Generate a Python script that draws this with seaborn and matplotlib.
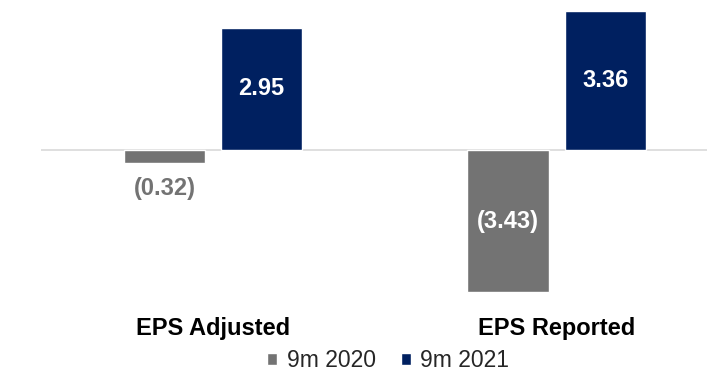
import matplotlib
matplotlib.use("Agg")
import matplotlib.pyplot as plt
import seaborn as sns
import pandas as pd
from matplotlib.patches import Patch

# EPS figures by metric and period
metrics = ["EPS Adjusted", "EPS Reported"]
periods = ["9m 2020", "9m 2021"]
eps_2020 = [-0.32, -3.43]
eps_2021 = [2.95, 3.36]
colors = {"9m 2020": "#737373", "9m 2021": "#002060"}

df = pd.DataFrame({
    "metric": metrics * 2,
    "period": [periods[0]] * len(metrics) + [periods[1]] * len(metrics),
    "eps": eps_2020 + eps_2021,
})

sns.set_theme(style="white")
plt.rcParams["font.family"] = ["Liberation Sans", "DejaVu Sans"]

fig = plt.figure(figsize=(7.07, 3.71), dpi=100)
ax = fig.add_axes([41 / 707, 71 / 371, 666 / 707, 300 / 371])

sns.barplot(
    data=df, x="metric", y="eps", hue="period",
    order=metrics, hue_order=periods, palette=colors,
    width=0.565, gap=0.165, saturation=1, legend=False, ax=ax,
)
ax.set_xlim(-0.5007, 1.438)
ax.set_ylim(-3.623, 3.623)
ax.axhline(0, color="#d9d9d9", lw=1.2, zorder=0)


def fmt(v):
    return f"({abs(v):.2f})" if v < 0 else f"{v:.2f}"


# value labels: inside the bar, or below it when the bar is too short
for container, period in zip(ax.containers, periods):
    for bar in container:
        v = bar.get_y() + bar.get_height() if bar.get_y() >= 0 else bar.get_y()
        x = bar.get_x() + bar.get_width() / 2
        if abs(v) < 1:
            ax.annotate(fmt(v), xy=(x, v), xytext=(0, -18), textcoords="offset points",
                        ha="center", va="center", fontsize=17, fontweight="bold",
                        color=colors[period])
        else:
            ax.text(x, v / 2, fmt(v), ha="center", va="center", fontsize=17,
                    fontweight="bold", color="white")

ax.set_xticks(range(len(metrics)))
ax.set_xticklabels(metrics, fontsize=17, fontweight="bold", color="black")
ax.tick_params(axis="x", length=0, pad=12)
ax.set_yticks([])
ax.set_xlabel("")
ax.set_ylabel("")
sns.despine(ax=ax, left=True, bottom=True)

handles = [Patch(facecolor=colors[p], label=p) for p in periods]
fig.legend(handles=handles, loc="center", bbox_to_anchor=(0.549, 0.027), ncol=2,
           frameon=False, fontsize=16.5, handlelength=0.45, handleheight=0.45,
           handletextpad=0.4, columnspacing=1.1, borderaxespad=0)

fig.savefig("out.png", dpi=100, facecolor="white")
